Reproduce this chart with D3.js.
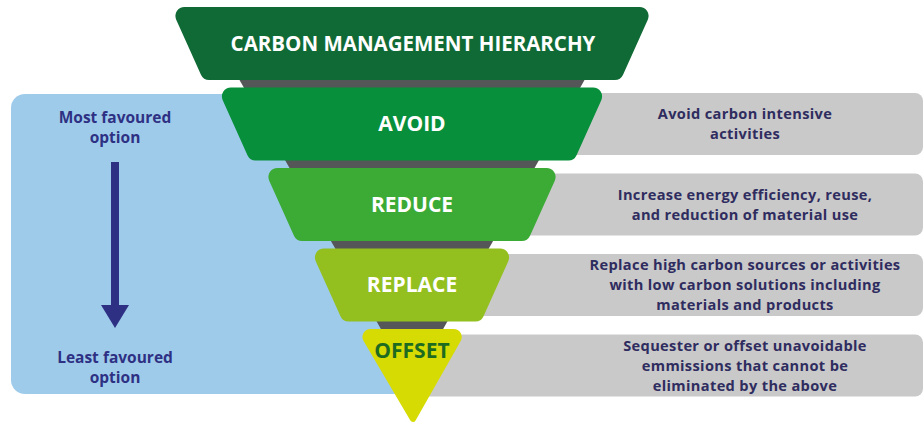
<!DOCTYPE html>
<html>
<head>
<meta charset="utf-8">
<script src="https://cdn.jsdelivr.net/npm/d3@7"></script>
<style>
  body { margin: 0; background: #fff; }
  svg { display: block; font-family: 'Open Sans', sans-serif; font-weight: 700; }
</style>
</head>
<body>
<div id="chart"></div>
<script>
// Carbon management hierarchy - inverted funnel diagram

const title = 'CARBON MANAGEMENT HIERARCHY';
const levels = ['AVOID', 'REDUCE', 'REPLACE', 'OFFSET'];
const levelColors = ['#078f3b', '#3bab36', '#93c01f', '#d6db03'];
const levelTextColors = ['#ffffff', '#ffffff', '#ffffff', '#1d6b21'];
const descriptions = [
  ['Avoid carbon intensive', 'activities'],
  ['Increase energy efficiency, reuse,', 'and reduction of material use'],
  ['Replace high carbon sources or activities', 'with low carbon solutions including', 'materials and products'],
  ['Sequester or offset unavoidable', 'emmissions that cannot be', 'eliminated by the above']
];
const topLabel = ['Most favoured', 'option'];
const bottomLabel = ['Least favoured', 'option'];

const width = 924, height = 426;
const cx = 412;
const bandH = 73;
const slant = 0.45; // horizontal shrink per vertical px on the sides

// index -1 is the title block, 0..3 the levels
const y = d3.scaleLinear().domain([-1, 4]).range([7, 7 + 5 * 80.5]);
const half = d3.scaleLinear().domain([-1, 3]).range([241.5, 55.5]);

const svg = d3.select('#chart')
  .append('svg')
  .attr('width', width)
  .attr('height', height)
  .attr('viewBox', `0 0 ${width} ${height}`);

/**
 * Polygon with rounded corners, one radius per corner
 */
function roundedPoly(pts, radii) {
  const p = d3.path();
  const n = pts.length;
  p.moveTo((pts[n - 1][0] + pts[0][0]) / 2, (pts[n - 1][1] + pts[0][1]) / 2);
  pts.forEach((pt, i) => {
    const nx = pts[(i + 1) % n];
    p.arcTo(pt[0], pt[1], nx[0], nx[1], radii[i]);
  });
  p.closePath();
  return p.toString();
}

// Left blue panel
svg.append('rect')
  .attr('x', 11).attr('y', 94)
  .attr('width', cx - 11).attr('height', 300)
  .attr('rx', 14)
  .attr('fill', '#9fcbeb');

// Right grey description panels
svg.selectAll('rect.desc')
  .data(levels)
  .enter()
  .append('rect')
  .attr('class', 'desc')
  .attr('x', cx)
  .attr('y', (d, i) => y(i) + bandH / 2 - 31)
  .attr('width', width - 1 - cx)
  .attr('height', 62)
  .attr('rx', 8)
  .attr('fill', '#c9c9c9');

// Dark grey spine behind the funnel
const spineSlope = 0.568;
svg.append('path')
  .attr('d', roundedPoly([
    [cx - (172.5 + 60 * spineSlope), 20],
    [cx + (172.5 + 60 * spineSlope), 20],
    [cx, 80 + 172.5 / spineSlope]
  ], [0, 0, 2]))
  .attr('fill', '#555657');

// Title block
const hTop = half(-1);
svg.append('path')
  .attr('d', roundedPoly([
    [cx - hTop, y(-1)],
    [cx + hTop, y(-1)],
    [cx + hTop - bandH * slant, y(-1) + bandH],
    [cx - hTop + bandH * slant, y(-1) + bandH]
  ], [9, 9, 9, 9]))
  .attr('fill', '#106a35');

svg.append('text')
  .attr('x', cx + 1)
  .attr('y', y(-1) + bandH / 2 - 1)
  .attr('text-anchor', 'middle')
  .attr('dominant-baseline', 'central')
  .attr('font-size', 20.5)
  .attr('fill', '#ffffff')
  .text(title);

// Funnel levels
const last = levels.length - 1;
svg.selectAll('path.level')
  .data(levels)
  .enter()
  .append('path')
  .attr('class', 'level')
  .attr('d', (d, i) => {
    const t = y(i), h = half(i);
    if (i === last) {
      return roundedPoly([[cx - h, t], [cx + h, t], [cx + 1, 425]], [8, 8, 3]);
    }
    const b = t + bandH, hb = h - bandH * slant;
    return roundedPoly([[cx - h, t], [cx + h, t], [cx + hb, b], [cx - hb, b]], [9, 9, 9, 9]);
  })
  .attr('fill', (d, i) => levelColors[i]);

svg.selectAll('text.level')
  .data(levels)
  .enter()
  .append('text')
  .attr('class', 'level')
  .attr('x', cx)
  .attr('y', (d, i) => i === last ? y(i) + 21 : y(i) + bandH / 2 - 1)
  .attr('text-anchor', 'middle')
  .attr('dominant-baseline', 'central')
  .attr('font-size', 21)
  .attr('fill', (d, i) => levelTextColors[i])
  .text(d => d);

// Description texts
const lineH = 20;
descriptions.forEach((lines, i) => {
  const mid = y(i) + bandH / 2;
  svg.append('text')
    .attr('text-anchor', 'middle')
    .attr('font-size', 14.6)
    .attr('letter-spacing', 0.35)
    .attr('fill', '#2f2c5f')
    .selectAll('tspan')
    .data(lines)
    .enter()
    .append('tspan')
    .attr('x', 745)
    .attr('y', (l, j) => mid + (j - (lines.length - 1) / 2) * lineH - 1)
    .attr('dominant-baseline', 'central')
    .text(l => l);
});

// Left side labels and arrow
const navy = '#2e3183';
function stackLabel(lines, midY) {
  svg.append('text')
    .attr('text-anchor', 'middle')
    .attr('font-size', 15.5)
    .attr('fill', navy)
    .selectAll('tspan')
    .data(lines)
    .enter()
    .append('tspan')
    .attr('x', 115)
    .attr('y', (l, j) => midY + (j - (lines.length - 1) / 2) * 20)
    .attr('dominant-baseline', 'central')
    .text(l => l);
}
stackLabel(topLabel, 127);
stackLabel(bottomLabel, 367);

svg.append('rect')
  .attr('x', 111).attr('y', 162)
  .attr('width', 8).attr('height', 145)
  .attr('fill', navy);
svg.append('path')
  .attr('d', 'M101,305 L129,305 L115,328 Z')
  .attr('fill', navy);
</script>
</body>
</html>
